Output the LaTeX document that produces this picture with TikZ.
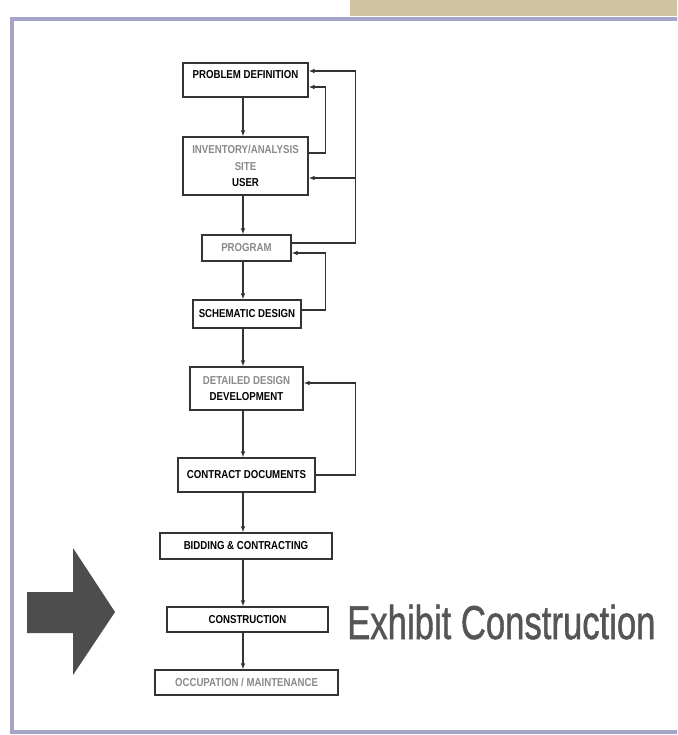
\documentclass[tikz,border=0pt]{standalone}
\usepackage{fontspec}
\setmainfont{Liberation Sans}
\newfontfamily\captionface[FakeBold=1.2]{Liberation Sans}
\usetikzlibrary{arrows.meta}
\newcommand\narrowtxt[1]{\scalebox{0.84}[1]{#1}}
\definecolor{framec}{HTML}{A4A4C6}
\definecolor{tanbar}{HTML}{CFC3A2}
\definecolor{inkc}{HTML}{333333}
\definecolor{softc}{HTML}{8A8A8A}
\definecolor{bigarrow}{HTML}{4D4D4D}
\definecolor{titlec}{HTML}{555555}

\begin{document}
\begin{tikzpicture}[x=1pt,y=-1pt,
  box/.style={draw=inkc, line width=1.1pt, inner sep=0pt, align=center,
    font=\fontsize{11.5}{16.5}\selectfont\bfseries, text=black},
  flow/.style={draw=inkc, line width=1.1pt, -{Latex[length=6pt,width=4.5pt]}},
]
\useasboundingbox (0,0) rectangle (677,735);
\clip (0,0) rectangle (677,735);
\fill[white] (0,0) rectangle (677,735);

% slide decoration: tan band and framing rule
\fill[tanbar] (350,0) rectangle (677,16);
\draw[framec, line width=4pt] (700,19) -- (12,19) -- (12,732) -- (700,732);

% process steps
\node[box, minimum width=125pt, minimum height=34pt, text height=8pt, text depth=10pt]
  (pd) at (245.5,80) {\narrowtxt{PROBLEM DEFINITION}};
\node[box, minimum width=125pt, minimum height=58pt]
  (inv) at (245.5,166) {\narrowtxt{\color{softc}INVENTORY/ANALYSIS}\\\narrowtxt{\color{softc}SITE}\\\narrowtxt{USER}};
\node[box, minimum width=89pt, minimum height=26pt, text=softc]
  (prog) at (246.5,248) {\narrowtxt{PROGRAM}};
\node[box, minimum width=108pt, minimum height=28pt]
  (sch) at (247,314) {\narrowtxt{SCHEMATIC DESIGN}};
\node[box, minimum width=113pt, minimum height=43pt]
  (det) at (246.5,388.5) {\narrowtxt{\color{softc}DETAILED DESIGN}\\\narrowtxt{DEVELOPMENT}};
\node[box, minimum width=137pt, minimum height=34pt]
  (con) at (246.5,475) {\narrowtxt{CONTRACT DOCUMENTS}};
\node[box, minimum width=172pt, minimum height=26pt]
  (bid) at (246,546) {\narrowtxt{BIDDING \& CONTRACTING}};
\node[box, minimum width=161pt, minimum height=25pt]
  (cst) at (247.5,619.5) {\narrowtxt{CONSTRUCTION}};
\node[box, minimum width=183pt, minimum height=25pt, text=softc]
  (occ) at (246.5,682.5) {\narrowtxt{OCCUPATION / MAINTENANCE}};

% main downward sequence
\coordinate (spine) at (243,0);
\foreach \a/\b in {pd/inv, inv/prog, prog/sch, sch/det, det/con, con/bid, bid/cst, cst/occ}
  \draw[flow] (\a.south -| spine) -- (\b.north -| spine);

% feedback loops
\draw[flow] ([yshift=5pt]prog.east) -- ++(64,0) |- ([yshift=9pt]pd.east);
\coordinate (tap) at (355,178);
\draw[flow] (tap) -- ([yshift=-12pt]inv.east);
\draw[flow] ([yshift=13pt]inv.east) -- ++(17,0) |- ([yshift=-7pt]pd.east);
\draw[flow] ([yshift=4pt]sch.east) -- ++(24,0) |- ([yshift=-5pt]prog.east);
\draw[flow] (con.east) -- ++(40,0) |- ([yshift=5.5pt]det.east);

% pointer arrow and caption
\fill[bigarrow] (27,592) -- (73,592) -- (73,548) -- (115,612) -- (73,675)
  -- (73,633) -- (27,633) -- cycle;
\node[anchor=base west, inner sep=0pt, text=titlec, font=\captionface\fontsize{47.5}{50}\selectfont]
  (title) at (347,639) {\scalebox{0.73}[1]{Exhibit Construction}};
\end{tikzpicture}
\end{document}
